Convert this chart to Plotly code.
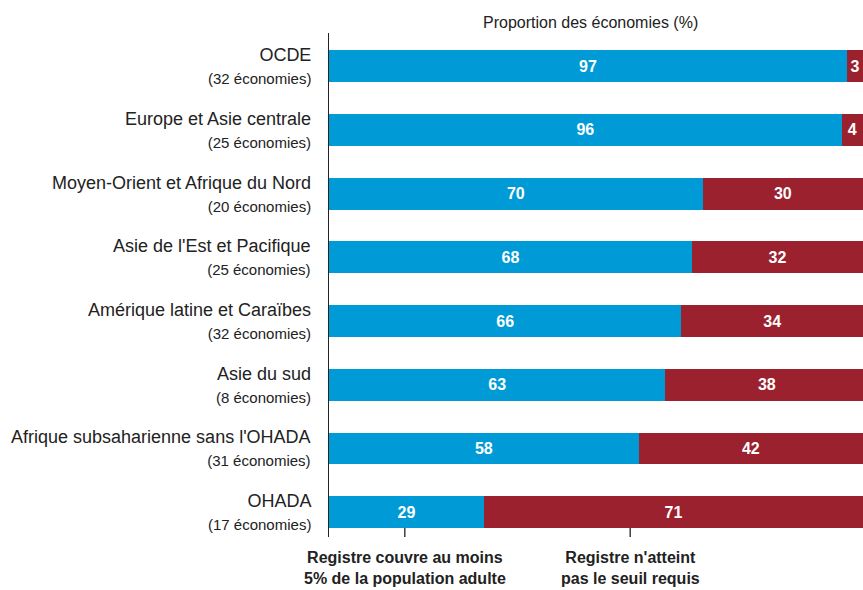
import plotly.graph_objects as go

categories = ["OCDE", "Europe et Asie centrale", "Moyen-Orient et Afrique du Nord",
              "Asie de l'Est et Pacifique", "Amérique latine et Caraïbes", "Asie du sud",
              "Afrique subsaharienne sans l'OHADA", "OHADA"]
counts = ["(32 économies)", "(25 économies)", "(20 économies)", "(25 économies)",
          "(32 économies)", "(8 économies)", "(31 économies)", "(17 économies)"]
covered = [97, 96, 70, 68, 66, 63, 58, 29]
not_covered = [3, 4, 30, 32, 34, 38, 42, 71]
series_names = ["Registre couvre au moins<br>5% de la population adulte",
                "Registre n'atteint<br>pas le seuil requis"]
title_text = "Proportion des économies (%)"

FONT = "Liberation Sans, Arial, sans-serif"
BLUE = "#009BD7"
RED = "#9A212D"

fig = go.Figure()
for vals, col, name in [(covered, BLUE, series_names[0]), (not_covered, RED, series_names[1])]:
    fig.add_trace(go.Bar(
        y=categories, x=vals, orientation="h", name=name,
        marker=dict(color=col, line=dict(width=0)),
        width=0.5,
        text=[str(v) for v in vals], textposition="inside", insidetextanchor="middle",
        textangle=0, constraintext="none",
        textfont=dict(family=FONT, size=16, color="white", weight="bold"),
        showlegend=False, hoverinfo="skip",
    ))

annotations = []
for c, n in zip(categories, counts):
    annotations.append(dict(
        x=0, xref="paper", y=c, yref="y", xanchor="right", yanchor="middle",
        xshift=-16, align="right", showarrow=False,
        text=f"{c}<br><span style='font-size:15px'>{n}</span>",
        font=dict(family=FONT, size=18, color="#222222"),
    ))

annotations.append(dict(
    x=0.49, xref="paper", y=1, yref="paper", yanchor="bottom", yshift=0,
    showarrow=False, text=title_text,
    font=dict(family=FONT, size=16, color="#222222"),
))

label_x = [14.2, 56.4]
shapes = []
for lx, name in zip(label_x, series_names):
    shapes.append(dict(type="line", xref="x", yref="y", x0=lx, x1=lx, y0=7.25, y1=7.45,
                       line=dict(color="#222222", width=1.3)))
    annotations.append(dict(
        x=lx, xref="x", y=0, yref="paper", yanchor="top", yshift=-10,
        showarrow=False, text=f"<b>{name}</b>",
        font=dict(family=FONT, size=16, color="#222222"),
    ))

fig.update_layout(
    barmode="stack",
    width=863, height=590,
    margin=dict(l=329, r=0, t=33, b=53),
    paper_bgcolor="white", plot_bgcolor="white",
    xaxis=dict(range=[0, 100], showticklabels=False, showgrid=False, zeroline=False,
               showline=False, ticks=""),
    yaxis=dict(range=[7.39, -0.52], showticklabels=False, showgrid=False, zeroline=False,
               showline=True, linecolor="#222222", linewidth=1.3, ticks=""),
    annotations=annotations,
    shapes=shapes,
    bargap=0.5,
)

fig.write_html("out.html", config={"displayModeBar": False},
               post_script="document.body.style.margin='0';document.body.style.overflow='hidden';")
